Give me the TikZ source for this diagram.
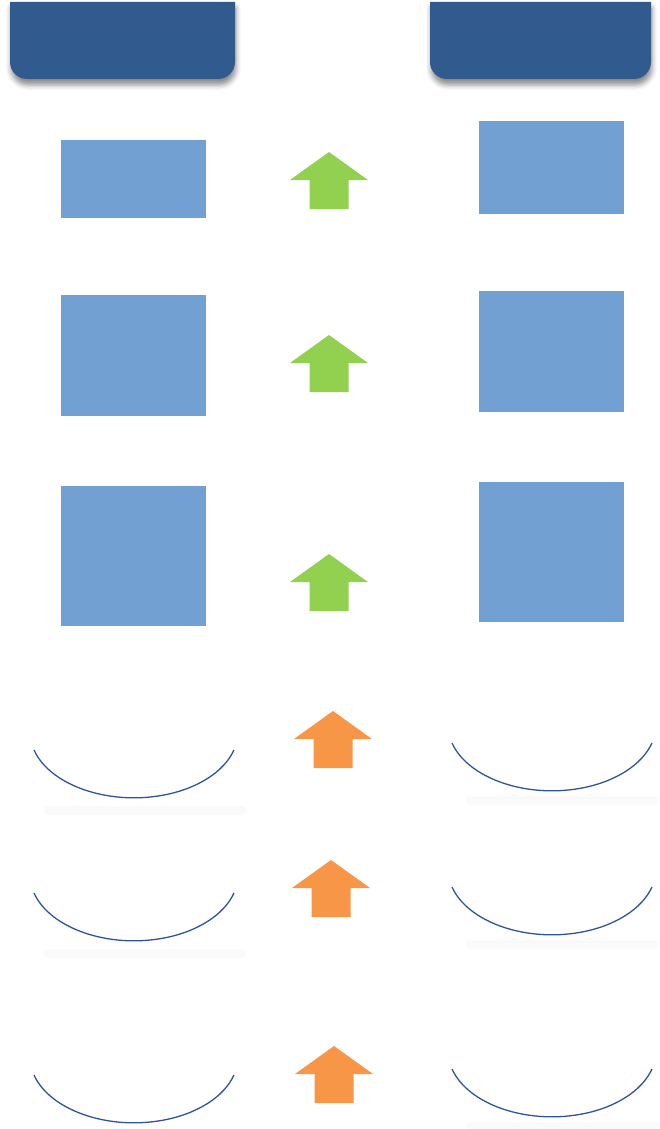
\documentclass[tikz,border=0pt]{standalone}
\usepackage{xcolor}
\usepackage{tikz}
\usetikzlibrary{shadows.blur}
\definecolor{hdrblue}{RGB}{49,90,142}
\definecolor{boxblue}{RGB}{114,160,210}
\definecolor{arcblue}{RGB}{47,85,151}
\definecolor{arrgreen}{RGB}{146,208,80}
\definecolor{arrorange}{RGB}{247,150,70}
\tikzset{
  dhead/.style={fill=hdrblue, blur shadow={shadow xshift=1pt, shadow yshift=-6pt, shadow blur radius=5pt, shadow opacity=45}},
  dbox/.style={fill=boxblue, draw=none, inner sep=0pt, anchor=north west, minimum width=145pt},
  darc/.style={draw=arcblue, line width=1.3pt},
  dreflect/.style={draw=black, opacity=0.02, line width=9pt, line cap=round},
  uparr/.pic={\path[pic actions] (0,0) -- (39,28) -- (19.5,28) -- (19.5,57) -- (-19.5,57) -- (-19.5,28) -- (-39,28) -- cycle;}
}

\begin{document}
\begin{tikzpicture}[x=1pt,y=-1pt]
\useasboundingbox (0,0) rectangle (659,1129);

% column heads
\path[dhead] (10,2) [rounded corners=17pt] -- (10,79) -- (235,79) [sharp corners] -- (235,2) -- cycle;
\path[dhead] (430,2) [rounded corners=17pt] -- (430,79) -- (651,79) [sharp corners] -- (651,2) -- cycle;

% boxes
\node[dbox, minimum height=78pt] (lbox1) at (61,140) {};
\node[dbox, minimum height=121pt] (lbox2) at (61,295) {};
\node[dbox, minimum height=140pt] (lbox3) at (61,486) {};
\node[dbox, minimum height=93pt] (rbox1) at (479,121) {};
\node[dbox, minimum height=121pt] (rbox2) at (479,291) {};
\node[dbox, minimum height=140pt] (rbox3) at (479,482) {};

% arrows
\pic[fill=arrgreen] (gup1) at (329,152) {uparr};
\pic[fill=arrgreen] (gup2) at (329,335) {uparr};
\pic[fill=arrgreen] (gup3) at (329,554) {uparr};
\pic[fill=arrorange] (oup1) at (333,711) {uparr};
\pic[fill=arrorange] (oup2) at (331,860) {uparr};
\pic[fill=arrorange] (oup3) at (334,1046) {uparr};

% bowls
\foreach \y in {750,893,1075} {
  \draw[dreflect] (48,\y+60) -- (242,\y+60);
  \draw[darc] (34,\y) arc[start angle=164, end angle=16, x radius=104, y radius=66];
}
\foreach \y in {743,887,1069} {
  \draw[dreflect] (470,\y+57) -- (655,\y+57);
  \draw[darc] (452,\y) arc[start angle=164, end angle=16, x radius=104, y radius=66];
}
\end{tikzpicture}
\end{document}
